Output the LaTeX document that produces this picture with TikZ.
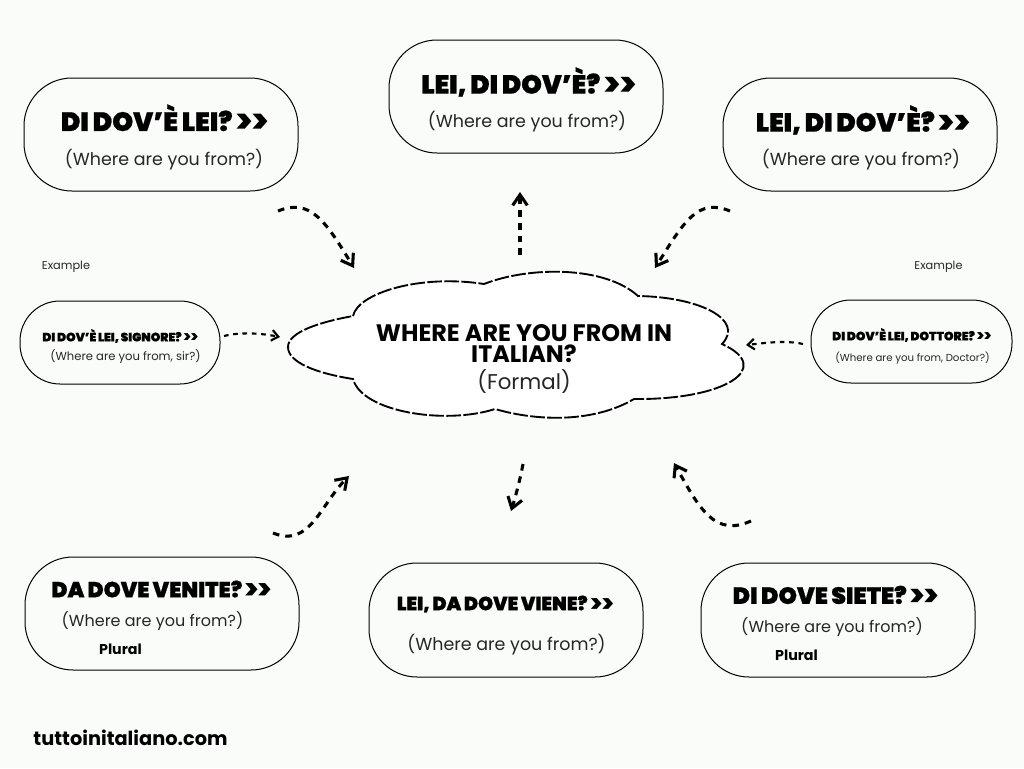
\documentclass[tikz,border=0pt]{standalone}
\usepackage{fontspec}
\usetikzlibrary{arrows.meta}
\setmainfont{Poppins}
\newfontfamily\heavy[WordSpace=0.85,FakeBold=0.6]{Poppins Black}
\newfontfamily\chev[Scale=1.3]{Poppins ExtraBold}
\newcommand{\chevs}{\raisebox{-0.1em}{\chev\kern-0.02em>\kern-0.06em>}}
\definecolor{bgc}{HTML}{FAFCFA}
\newcommand{\fsz}[1]{\fontsize{#1}{#1}\selectfont}
\tikzset{
  x=0.75pt,y=-0.75pt,
  pill/.style={draw=black,line width=0.75pt,rounded corners=36pt,fill=bgc},
  head/.style={inner sep=0,anchor=center,text=black},
  sub/.style={inner sep=0,anchor=center,text=black!85},
  flow/.style={line width=2.3pt,dash pattern=on 5pt off 4.5pt,-{Straight Barb[length=8pt,width=11pt,line width=2.3pt]}},
  thin flow/.style={line width=1.6pt,dash pattern=on 3.5pt off 3.5pt,-{Straight Barb[length=5pt,width=8pt,line width=1.6pt]}},
}
\begin{document}
\begin{tikzpicture}
\useasboundingbox (0,0) rectangle (1024,768);
\fill[bgc] (0,0) rectangle (1024,768);
% boxes
\draw[pill] (24,78) rectangle (298,191);
\draw[pill] (389,40) rectangle (663,153);
\draw[pill] (723,78) rectangle (997,191);
\draw[pill,rounded corners=30pt] (20,301) rectangle (220,384);
\draw[pill,rounded corners=30pt] (811,300) rectangle (1012,383);
\draw[pill] (25,557) rectangle (299,670);
\draw[pill] (369,563) rectangle (643,677);
\draw[pill] (701,563) rectangle (975,677);
% cloud
\draw[fill=white,line width=1.4pt,dash pattern=on 11pt off 1.8pt]
 (353,316) .. controls (358,293) and (420,274) .. (484,284)
 .. controls (530,266) and (605,266) .. (638,296)
 .. controls (700,297) and (745,320) .. (722,344)
 .. controls (775,368) and (725,400) .. (634,399)
 .. controls (595,422) and (540,422) .. (495,409)
 .. controls (445,425) and (362,412) .. (353,379)
 .. controls (315,373) and (288,362) .. (288,347)
 .. controls (288,332) and (320,322) .. (353,316) -- cycle;
% texts
\node[head] (h1) at (165,119) {\heavy\fsz{19.8}DI DOV’È LEI? \chevs};
\node[sub] (s1) at (164,160) {\fsz{13.1}(Where are you from?)};
\node[head] (h2) at (529,82) {\heavy\fsz{19.6}LEI, DI DOV’È? \chevs};
\node[sub] (s2) at (527,122) {\fsz{13.1}(Where are you from?)};
\node[head] (h3) at (863.5,120) {\heavy\fsz{19.6}LEI, DI DOV’È? \chevs};
\node[sub] (s3) at (861,160) {\fsz{13.1}(Where are you from?)};
\node[head] (h4) at (120.5,336) {\heavy\fsz{9.1}DI DOV’È LEI, SIGNORE? \chevs};
\node[sub] (s4) at (125.5,357) {\fsz{8.7}(Where are you from, sir?)};
\node[head] (h5) at (912,335) {\heavy\fsz{9.1}DI DOV’È LEI, DOTTORE? \chevs};
\node[sub] (s5) at (912.5,358) {\fsz{7.65}(Where are you from, Doctor?)};
\node[sub] (e1) at (66,267) {\fsz{8.5}Example};
\node[sub] (e2) at (938.5,267) {\fsz{8.5}Example};
\node[head] (h6) at (162,590) {\heavy\fsz{16.3}DA DOVE VENITE? \chevs};
\node[sub] (s6) at (152.5,621) {\fsz{12}(Where are you from?)};
\node[head,font=\bfseries\fsz{10.7}] (p1) at (120.5,649) {Plural};
\node[head] (h7) at (505.5,604) {\heavy\fsz{14.25}LEI, DA DOVE VIENE? \chevs};
\node[sub] (s7) at (506.5,645) {\fsz{13.1}(Where are you from?)};
\node[head] (h8) at (836,596) {\heavy\fsz{17.6}DI DOVE SIETE? \chevs};
\node[sub] (s8) at (832,627) {\fsz{12}(Where are you from?)};
\node[head,font=\bfseries\fsz{10.7}] (p2) at (796.5,655) {Plural};
\node[head,font=\bfseries\fsz{17.9},align=center] (t1) at (524,343.5) {WHERE ARE YOU FROM IN\\[-2.2pt]ITALIAN?};
\node[sub] (t3) at (524,382) {\fsz{16}(Formal)};
\node[head,font=\bfseries\fsz{14.5}] (web) at (130.5,738) {tuttoinitaliano.com};
% connector ends
\coordinate (a1s) at (278,211); \coordinate (a1e) at (354,268);
\coordinate (a2s) at (520,255); \coordinate (a2e) at (520,192);
\coordinate (a3s) at (730,211); \coordinate (a3e) at (655,268);
\coordinate (a4s) at (224,336); \coordinate (a4e) at (280,337);
\coordinate (a5s) at (803,344); \coordinate (a5e) at (746,345);
\coordinate (a6s) at (273,533); \coordinate (a6e) at (349,476);
\coordinate (a7s) at (523,464); \coordinate (a7e) at (511,511);
\coordinate (a8s) at (751,521); \coordinate (a8e) at (674,463);
\draw[flow] (a1s) .. controls (310,198) and (325,220) .. (a1e);
\draw[flow] (a2s) -- (a2e);
\draw[flow] (a3s) .. controls (698,198) and (685,220) .. (a3e);
\draw[thin flow] (a4s) .. controls (240,332) and (260,333) .. (a4e);
\draw[thin flow] (a5s) .. controls (785,340) and (765,343) .. (a5e);
\draw[flow] (a6s) .. controls (310,548) and (320,505) .. (a6e);
\draw[flow] (a7s) .. controls (520,480) and (516,495) .. (a7e);
\draw[flow] (a8s) .. controls (715,537) and (700,510) .. (a8e);
\end{tikzpicture}
\end{document}
